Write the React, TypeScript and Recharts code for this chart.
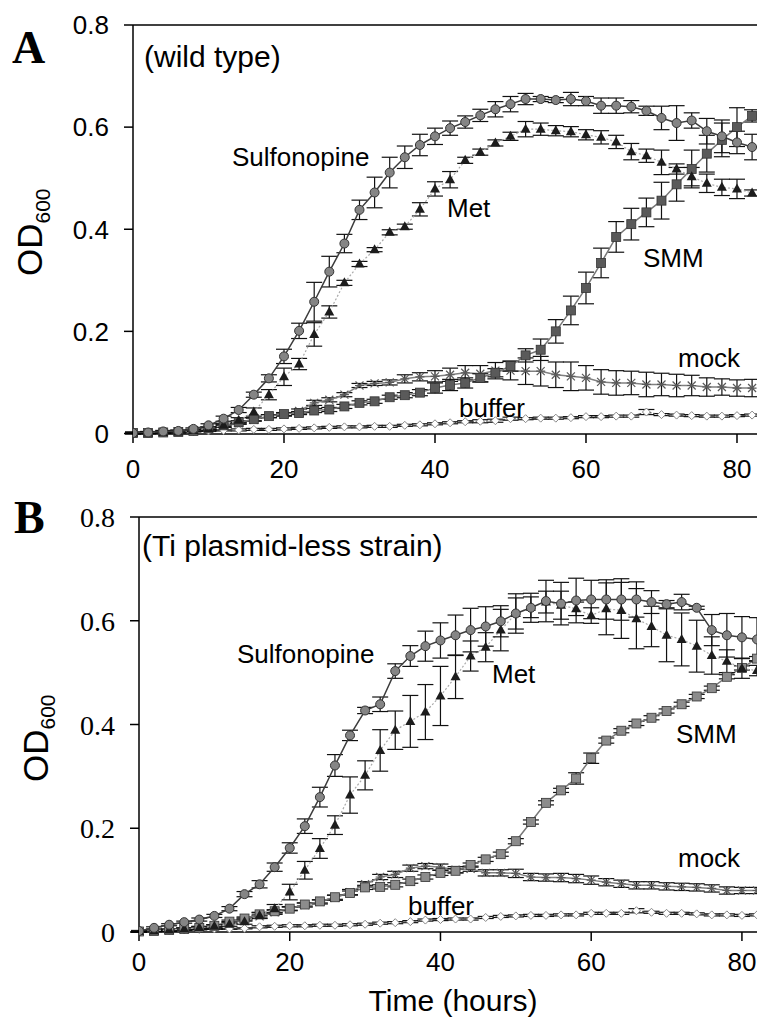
import React from "react";
import { LineChart, Line, XAxis, YAxis, ErrorBar, ReferenceLine } from "recharts";

// sampling times (hours)
const hours = [0, 2, 4, 6, 8, 10, 12, 14, 16, 18, 20, 22, 24, 26, 28, 30, 32, 34, 36, 38, 40, 42, 44, 46, 48, 50, 52, 54, 56, 58, 60, 62, 64, 66, 68, 70, 72, 74, 76, 78, 80, 82];
const xTicks = [0, 20, 40, 60, 80];
const yTicks = [0, 0.2, 0.4, 0.6, 0.8];

// panel A: wild type
const sulfA = [0.001, 0.002, 0.004, 0.005, 0.009, 0.016, 0.029, 0.046, 0.076, 0.108, 0.151, 0.201, 0.258, 0.317, 0.372, 0.438, 0.472, 0.511, 0.541, 0.565, 0.582, 0.598, 0.61, 0.623, 0.635, 0.645, 0.655, 0.655, 0.653, 0.655, 0.651, 0.642, 0.642, 0.64, 0.632, 0.618, 0.608, 0.613, 0.592, 0.582, 0.57, 0.561];
const sulfAErr = [0.002, 0.002, 0.002, 0.002, 0.002, 0.003, 0.005, 0.005, 0.005, 0.007, 0.014, 0.015, 0.038, 0.03, 0.018, 0.019, 0.03, 0.03, 0.022, 0.021, 0.016, 0.014, 0.012, 0.012, 0.015, 0.015, 0.011, 0.005, 0.005, 0.013, 0.009, 0.015, 0.015, 0.012, 0.009, 0.023, 0.034, 0.015, 0.025, 0.032, 0.022, 0.025];
const metA = [0.001, 0.001, 0.002, 0.003, 0.006, 0.01, 0.016, 0.026, 0.042, 0.076, 0.111, 0.136, 0.194, 0.238, 0.295, 0.332, 0.36, 0.394, 0.405, 0.439, 0.479, 0.497, 0.535, 0.551, 0.569, 0.582, 0.596, 0.596, 0.593, 0.591, 0.585, 0.58, 0.571, 0.552, 0.544, 0.531, 0.518, 0.503, 0.49, 0.482, 0.479, 0.471];
const metAErr = [0.001, 0.001, 0.001, 0.002, 0.002, 0.003, 0.004, 0.005, 0.008, 0.01, 0.017, 0.011, 0.023, 0.012, 0.005, 0.005, 0.004, 0.005, 0.005, 0.013, 0.014, 0.016, 0.006, 0.006, 0.006, 0.008, 0.015, 0.012, 0.01, 0.01, 0.01, 0.013, 0.013, 0.016, 0.013, 0.024, 0.01, 0.018, 0.018, 0.016, 0.019, 0.006];
const smmA = [0.001, 0.001, 0.002, 0.003, 0.005, 0.01, 0.016, 0.022, 0.028, 0.034, 0.038, 0.04, 0.045, 0.047, 0.053, 0.06, 0.063, 0.071, 0.075, 0.08, 0.089, 0.095, 0.099, 0.109, 0.119, 0.132, 0.153, 0.164, 0.2, 0.241, 0.285, 0.334, 0.385, 0.41, 0.433, 0.456, 0.488, 0.518, 0.548, 0.575, 0.6, 0.622];
const smmAErr = [0.001, 0.001, 0.001, 0.001, 0.001, 0.002, 0.002, 0.003, 0.003, 0.003, 0.003, 0.003, 0.004, 0.004, 0.004, 0.004, 0.004, 0.004, 0.005, 0.006, 0.01, 0.011, 0.01, 0.008, 0.008, 0.01, 0.013, 0.021, 0.023, 0.028, 0.031, 0.029, 0.03, 0.031, 0.028, 0.036, 0.033, 0.037, 0.036, 0.033, 0.038, 0.012];
const mockA = [0.001, 0.001, 0.003, 0.004, 0.007, 0.01, 0.014, 0.02, 0.027, 0.034, 0.037, 0.044, 0.06, 0.066, 0.076, 0.094, 0.098, 0.1, 0.107, 0.111, 0.112, 0.115, 0.119, 0.117, 0.123, 0.123, 0.122, 0.122, 0.115, 0.112, 0.109, 0.101, 0.099, 0.099, 0.096, 0.096, 0.094, 0.094, 0.091, 0.091, 0.089, 0.089];
const mockAErr = [0.001, 0.001, 0.001, 0.001, 0.001, 0.001, 0.002, 0.002, 0.003, 0.003, 0.003, 0.004, 0.005, 0.004, 0.004, 0.004, 0.004, 0.005, 0.008, 0.008, 0.011, 0.013, 0.014, 0.016, 0.016, 0.018, 0.026, 0.029, 0.025, 0.028, 0.024, 0.024, 0.024, 0.023, 0.024, 0.022, 0.022, 0.02, 0.018, 0.016, 0.016, 0.017];
const bufA = [0.001, 0.001, 0.002, 0.003, 0.004, 0.005, 0.006, 0.007, 0.008, 0.008, 0.009, 0.01, 0.011, 0.012, 0.013, 0.013, 0.014, 0.014, 0.016, 0.017, 0.019, 0.021, 0.023, 0.024, 0.025, 0.029, 0.029, 0.03, 0.03, 0.031, 0.033, 0.033, 0.034, 0.034, 0.042, 0.037, 0.036, 0.035, 0.034, 0.034, 0.035, 0.036];
const bufAErr = [0.001, 0.001, 0.001, 0.001, 0.001, 0.001, 0.001, 0.002, 0.002, 0.002, 0.002, 0.002, 0.002, 0.002, 0.002, 0.002, 0.002, 0.002, 0.002, 0.002, 0.002, 0.002, 0.002, 0.003, 0.003, 0.003, 0.002, 0.002, 0.002, 0.002, 0.002, 0.002, 0.002, 0.002, 0.005, 0.002, 0.002, 0.002, 0.002, 0.002, 0.002, 0.002];

// panel B: Ti plasmid-less strain
const sulfB = [0.002, 0.008, 0.014, 0.019, 0.024, 0.031, 0.045, 0.073, 0.092, 0.125, 0.162, 0.204, 0.26, 0.321, 0.379, 0.427, 0.439, 0.503, 0.532, 0.551, 0.562, 0.572, 0.582, 0.589, 0.599, 0.614, 0.625, 0.638, 0.633, 0.639, 0.641, 0.641, 0.641, 0.641, 0.636, 0.632, 0.636, 0.625, 0.582, 0.572, 0.568, 0.564];
const sulfBErr = [0.001, 0.002, 0.002, 0.002, 0.003, 0.003, 0.004, 0.005, 0.007, 0.008, 0.01, 0.014, 0.019, 0.021, 0.01, 0.006, 0.014, 0.014, 0.02, 0.029, 0.034, 0.039, 0.042, 0.038, 0.03, 0.038, 0.028, 0.04, 0.041, 0.043, 0.037, 0.038, 0.04, 0.034, 0.022, 0.007, 0.015, 0.003, 0.03, 0.042, 0.04, 0.042];
const metB = [0.001, 0.002, 0.004, 0.006, 0.008, 0.011, 0.015, 0.02, 0.032, 0.045, 0.077, 0.119, 0.161, 0.206, 0.264, 0.302, 0.35, 0.389, 0.406, 0.424, 0.455, 0.492, 0.532, 0.549, 0.582, 0.614, 0.626, 0.636, 0.63, 0.623, 0.61, 0.623, 0.62, 0.604, 0.589, 0.572, 0.564, 0.551, 0.533, 0.522, 0.508, 0.504];
const metBErr = [0.001, 0.001, 0.002, 0.002, 0.003, 0.003, 0.004, 0.005, 0.006, 0.008, 0.015, 0.017, 0.019, 0.018, 0.035, 0.028, 0.04, 0.037, 0.05, 0.053, 0.057, 0.042, 0.029, 0.028, 0.04, 0.03, 0.02, 0.021, 0.027, 0.013, 0.015, 0.05, 0.054, 0.058, 0.039, 0.051, 0.051, 0.05, 0.036, 0.022, 0.019, 0.01];
const smmB = [0.001, 0.002, 0.004, 0.006, 0.008, 0.012, 0.02, 0.026, 0.034, 0.04, 0.045, 0.053, 0.059, 0.067, 0.075, 0.086, 0.087, 0.091, 0.098, 0.106, 0.114, 0.118, 0.129, 0.14, 0.15, 0.175, 0.212, 0.249, 0.273, 0.296, 0.335, 0.369, 0.388, 0.402, 0.413, 0.426, 0.439, 0.454, 0.47, 0.492, 0.509, 0.527];
const smmBErr = [0.001, 0.001, 0.001, 0.002, 0.002, 0.002, 0.003, 0.003, 0.003, 0.003, 0.003, 0.003, 0.003, 0.004, 0.004, 0.004, 0.004, 0.004, 0.004, 0.004, 0.005, 0.004, 0.004, 0.004, 0.004, 0.005, 0.004, 0.004, 0.004, 0.011, 0.01, 0.005, 0.004, 0.004, 0.004, 0.004, 0.004, 0.004, 0.004, 0.004, 0.004, 0.004];
const mockB = [0.001, 0.002, 0.003, 0.005, 0.008, 0.012, 0.018, 0.024, 0.03, 0.038, 0.045, 0.052, 0.058, 0.066, 0.077, 0.092, 0.106, 0.111, 0.123, 0.127, 0.125, 0.12, 0.122, 0.114, 0.114, 0.113, 0.106, 0.105, 0.105, 0.103, 0.1, 0.096, 0.093, 0.09, 0.09, 0.088, 0.087, 0.086, 0.084, 0.08, 0.08, 0.08];
const mockBErr = [0.001, 0.001, 0.001, 0.001, 0.001, 0.002, 0.002, 0.003, 0.003, 0.004, 0.004, 0.004, 0.004, 0.005, 0.005, 0.005, 0.005, 0.006, 0.006, 0.005, 0.006, 0.006, 0.005, 0.006, 0.006, 0.008, 0.007, 0.007, 0.008, 0.008, 0.008, 0.007, 0.007, 0.007, 0.007, 0.007, 0.007, 0.007, 0.007, 0.007, 0.006, 0.006];
const bufB = [0.001, 0.002, 0.003, 0.004, 0.005, 0.006, 0.006, 0.007, 0.01, 0.011, 0.012, 0.012, 0.013, 0.013, 0.014, 0.015, 0.017, 0.018, 0.02, 0.023, 0.024, 0.025, 0.025, 0.028, 0.03, 0.031, 0.032, 0.032, 0.033, 0.033, 0.036, 0.036, 0.036, 0.041, 0.038, 0.036, 0.036, 0.035, 0.033, 0.033, 0.032, 0.033];
const bufBErr = [0.001, 0.001, 0.001, 0.001, 0.001, 0.001, 0.001, 0.001, 0.002, 0.002, 0.002, 0.002, 0.002, 0.002, 0.002, 0.002, 0.002, 0.002, 0.002, 0.002, 0.002, 0.002, 0.002, 0.002, 0.002, 0.002, 0.002, 0.002, 0.002, 0.002, 0.002, 0.002, 0.002, 0.004, 0.002, 0.002, 0.002, 0.002, 0.002, 0.002, 0.002, 0.002];

const rowsA = hours.map((h, i) => ({
  h,
  sulf: sulfA[i], sulfErr: sulfAErr[i],
  met: metA[i], metErr: metAErr[i],
  smm: smmA[i], smmErr: smmAErr[i],
  mock: mockA[i], mockErr: mockAErr[i],
  buf: bufA[i], bufErr: bufAErr[i],
}));
const rowsB = hours.map((h, i) => ({
  h,
  sulf: sulfB[i], sulfErr: sulfBErr[i],
  met: metB[i], metErr: metBErr[i],
  smm: smmB[i], smmErr: smmBErr[i],
  mock: mockB[i], mockErr: mockBErr[i],
  buf: bufB[i], bufErr: bufBErr[i],
}));

const SANS = "'Liberation Sans', Arial, sans-serif";
const SERIF = "'Liberation Serif', 'Times New Roman', serif";

// marker shapes
const circleDot = (p: any) =>
  <circle key={`c${p.index}`} cx={p.cx} cy={p.cy} r={4.5} fill="#858585" stroke="#333" strokeWidth={1} />;
const triDot = (p: any) =>
  <path key={`t${p.index}`} d={`M${p.cx},${p.cy - 5.5}L${p.cx + 5},${p.cy + 3.5}L${p.cx - 5},${p.cy + 3.5}Z`} fill="#1c1c1c" />;
const squareDot = (fill: string) => (p: any) =>
  <rect key={`s${p.index}`} x={p.cx - 4.5} y={p.cy - 4.5} width={9} height={9} fill={fill} stroke="#333" strokeWidth={0.8} />;
const starDot = (p: any) =>
  <path key={`x${p.index}`} d={`M${p.cx - 4},${p.cy - 4}L${p.cx + 4},${p.cy + 4}M${p.cx - 4},${p.cy + 4}L${p.cx + 4},${p.cy - 4}M${p.cx - 4.5},${p.cy}L${p.cx + 4.5},${p.cy}`} stroke="#5a5a5a" strokeWidth={1.2} fill="none" />;
const diamondDot = (p: any) =>
  <path key={`d${p.index}`} d={`M${p.cx},${p.cy - 4}L${p.cx + 4},${p.cy}L${p.cx},${p.cy + 4}L${p.cx - 4},${p.cy}Z`} fill="#fff" stroke="#888" strokeWidth={1} />;

// tick renderers (positions come from the axis)
const xTick = (p: any) => (
  <text x={p.x} y={p.y} dy="0.71em" textAnchor="middle" fontFamily={SANS} fontSize={26} fill="#000">
    {p.payload.value}
  </text>
);
const yTick = (font: string, size: number) => (p: any) => (
  <text x={p.x} y={p.y} dy="0.36em" textAnchor="end" fontFamily={font} fontSize={size} fill="#000">
    {p.payload.value === 0 ? "0" : Number(p.payload.value).toFixed(1)}
  </text>
);

function Panel(props: { rows: any[]; xMax: number; yWidth: number; height: number; top: number; xAxisH: number; yTickFont: string; yTickSize: number; xTickMargin: number; smmFill: string }) {
  const { rows, xMax, yWidth, height, top, xAxisH, yTickFont, yTickSize, xTickMargin, smmFill } = props;
  const eb = { width: 8, stroke: "#111", strokeWidth: 1.2, direction: "y" as const, isAnimationActive: false };
  return (
    <LineChart width={757} height={height} data={rows} margin={{ top, right: 0, bottom: 0, left: 0 }}>
      <XAxis
        dataKey="h"
        type="number"
        domain={[0, xMax]}
        ticks={xTicks}
        interval={0}
        allowDataOverflow
        height={xAxisH}
        tickSize={9}
        tickMargin={xTickMargin}
        stroke="#000"
        strokeWidth={1.5}
        tick={xTick}
      />
      <YAxis
        type="number"
        domain={[0, 0.8]}
        ticks={yTicks}
        interval={0}
        width={yWidth}
        tickSize={9}
        tickMargin={15}
        stroke="#000"
        strokeWidth={1.5}
        tick={yTick(yTickFont, yTickSize)}
      />
      <ReferenceLine y={0.8} stroke="#000" strokeWidth={1.5} />
      <Line dataKey="buf" type="linear" stroke="#444" strokeWidth={1.2} strokeDasharray="5 2 1.5 2" dot={diamondDot} isAnimationActive={false}>
        <ErrorBar dataKey="bufErr" {...eb} />
      </Line>
      <Line dataKey="mock" type="linear" stroke="#808080" strokeWidth={1.5} dot={starDot} isAnimationActive={false}>
        <ErrorBar dataKey="mockErr" {...eb} />
      </Line>
      <Line dataKey="smm" type="linear" stroke="#777" strokeWidth={1.5} dot={squareDot(smmFill)} isAnimationActive={false}>
        <ErrorBar dataKey="smmErr" {...eb} />
      </Line>
      <Line dataKey="met" type="linear" stroke="#aaa" strokeWidth={1.2} strokeDasharray="2 2" dot={triDot} isAnimationActive={false}>
        <ErrorBar dataKey="metErr" {...eb} />
      </Line>
      <Line dataKey="sulf" type="linear" stroke="#3c3c3c" strokeWidth={1.5} dot={circleDot} isAnimationActive={false}>
        <ErrorBar dataKey="sulfErr" {...eb} />
      </Line>
    </LineChart>
  );
}

export default function App() {
  const lbl = { fontFamily: SANS, fontSize: 26, fill: "#000" };
  return (
    <div style={{ position: "absolute", left: 0, top: 0, width: 757, height: 1017, overflow: "hidden", background: "#fff" }}>
      <div style={{ position: "absolute", left: 0, top: 0 }}>
        <Panel rows={rowsA} xMax={82.65} yWidth={133} height={490} top={25} xAxisH={56} yTickFont={SANS} yTickSize={26} xTickMargin={17} smmFill="#5a5a5a" />
      </div>
      <div style={{ position: "absolute", left: 0, top: 490 }}>
        <Panel rows={rowsB} xMax={82} yWidth={139} height={527} top={27} xAxisH={85} yTickFont={SERIF} yTickSize={28} xTickMargin={12} smmFill="#8c8c8c" />
      </div>
      <svg width={757} height={1017} style={{ position: "absolute", left: 0, top: 0, pointerEvents: "none" }}>
        {/* panel A */}
        <text x={12} y={63} fontFamily={SERIF} fontWeight="bold" fontSize={46}>A</text>
        <text x={144} y={67} fontFamily={SANS} fontSize={30}>(wild type)</text>
        <text x={232} y={166} {...lbl}>Sulfonopine</text>
        <text x={447} y={217} {...lbl}>Met</text>
        <text x={643} y={267} {...lbl}>SMM</text>
        <text x={678} y={367} {...lbl}>mock</text>
        <text x={459} y={417} {...lbl}>buffer</text>
        <text transform="translate(42,276) rotate(-90)" fontFamily={SANS} fontSize={35}>
          OD<tspan fontSize={21} dy={8}>600</tspan>
        </text>
        {/* panel B */}
        <text x={14} y={533} fontFamily={SERIF} fontWeight="bold" fontSize={46}>B</text>
        <text x={142} y={556} fontFamily={SANS} fontSize={30}>(Ti plasmid-less strain)</text>
        <text x={237} y={663} {...lbl}>Sulfonopine</text>
        <text x={492} y={683} {...lbl}>Met</text>
        <text x={676} y={743} {...lbl}>SMM</text>
        <text x={678} y={867} {...lbl}>mock</text>
        <text x={408} y={915} {...lbl}>buffer</text>
        <text transform="translate(48,782) rotate(-90)" fontFamily={SANS} fontSize={35}>
          OD<tspan fontSize={21} dy={7}>600</tspan>
        </text>
        <text x={453} y={1011} textAnchor="middle" fontFamily={SANS} fontSize={30}>Time (hours)</text>
      </svg>
    </div>
  );
}
